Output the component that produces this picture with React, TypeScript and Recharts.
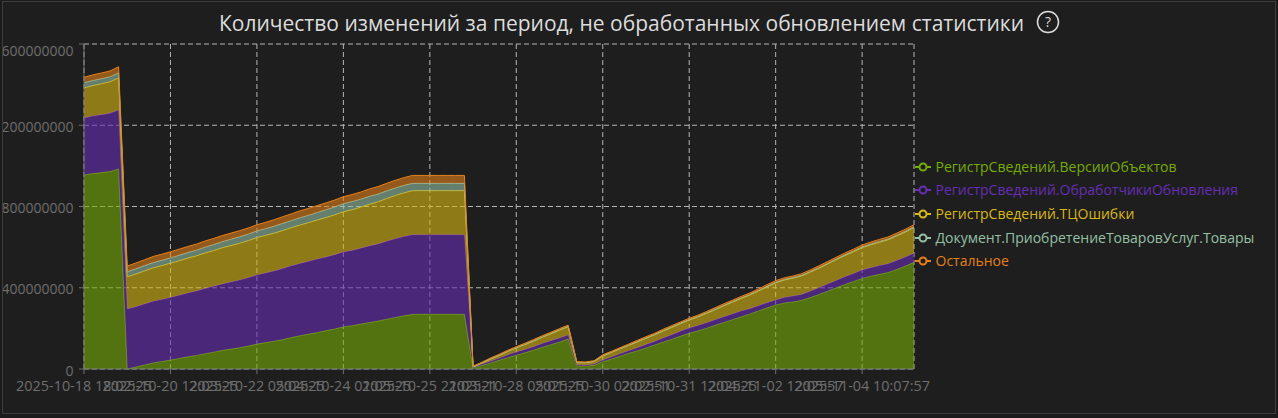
import React from "react";
import { AreaChart, Area, XAxis, YAxis, CartesianGrid, Legend } from "recharts";

const title = "Количество изменений за период, не обработанных обновлением статистики";
const tickLabels = [
  "2025-10-18 18:02:25", "2025-10-20 12:03:25", "2025-10-22 05:04:25", "2025-10-24 01:05:25", "2025-10-25 21:03:21",
  "2025-10-28 05:01:25", "2025-10-30 02:02:51", "2025-10-31 12:04:25", "2025-11-02 12:05:57", "2025-11-04 10:07:57",
];
const yTicks = [0, 400000000, 800000000, 1200000000, 1600000000];
const seriesNames = [
  "РегистрСведений.ВерсииОбъектов",
  "РегистрСведений.ОбработчикиОбновления",
  "РегистрСведений.ТЦОшибки",
  "Документ.ПриобретениеТоваровУслуг.Товары",
  "Остальное",
];
const seriesColors = ["#75ac05", "#672db4", "#d9b914", "#95c0a5", "#e6801a"];
const versions = [
  955, 962, 967, 972, 985, 0, 10, 20, 30, 37, 44, 52, 60, 67, 75, 83, 92, 98, 105, 113,
  123, 130, 137, 145, 155, 164, 172, 180, 189, 197, 208, 213, 221, 229, 236, 245, 254, 262, 269, 269,
  269, 269, 269, 269, 269, 5, 17, 30, 43, 56, 68, 80, 93, 107, 120, 133, 148, 15, 14, 18,
  36, 49, 63, 77, 90, 104, 118, 133, 147, 162, 176, 188, 201, 215, 229, 243, 257, 271, 286, 301,
  315, 325, 330, 338, 352, 367, 383, 400, 416, 431, 446, 457, 466, 475, 490, 507, 525,
];
const handlers = [
  281, 283, 285, 287, 290, 295, 297, 300, 303, 305, 308, 311, 314, 317, 321, 324, 327, 330, 333, 336,
  340, 343, 346, 350, 353, 356, 358, 361, 363, 366, 368, 371, 374, 377, 380, 384, 387, 390, 392, 392,
  392, 392, 392, 392, 392, 3, 6, 8, 10, 13, 16, 16, 17, 18, 19, 20, 19, 5, 5, 6,
  8, 10, 12, 13, 15, 17, 18, 20, 22, 24, 26, 26, 27, 27, 28, 28, 28, 26, 25, 25,
  25, 27, 29, 29, 31, 33, 35, 36, 38, 39, 41, 42, 43, 43, 44, 44, 45,
];
const errors = [
  148, 150, 152, 155, 158, 159, 161, 163, 165, 167, 169, 170, 172, 173, 175, 176, 178, 180, 181, 183,
  184, 185, 186, 187, 188, 189, 191, 193, 194, 196, 198, 200, 202, 205, 207, 210, 213, 215, 217, 217,
  217, 217, 217, 217, 217, 2, 6, 10, 13, 17, 20, 24, 27, 31, 34, 38, 41, 11, 11, 12,
  20, 22, 24, 26, 28, 30, 32, 34, 36, 37, 39, 42, 46, 50, 54, 58, 62, 67, 73, 78,
  84, 86, 88, 91, 94, 96, 99, 102, 104, 107, 110, 112, 115, 118, 121, 123, 126,
];
const goods = [
  25, 25, 25, 24, 25, 25, 25, 26, 26, 26, 26, 27, 27, 28, 29, 30, 30, 31, 32, 32,
  33, 33, 34, 35, 35, 36, 36, 37, 38, 39, 40, 40, 39, 39, 38, 38, 37, 37, 36, 36,
  36, 36, 36, 36, 36, 1, 1, 2, 2, 2, 2, 2, 3, 3, 3, 3, 3, 2, 2, 2,
  2, 2, 2, 2, 3, 3, 3, 3, 3, 3, 3, 3, 3, 3, 3, 3, 3, 3, 3, 3,
  3, 3, 3, 3, 3, 3, 3, 3, 4, 4, 4, 4, 4, 4, 4, 4, 4,
];
const others = [
  27, 28, 28, 29, 30, 28, 29, 29, 30, 30, 30, 30, 30, 30, 30, 30, 30, 30, 30, 30,
  30, 31, 32, 33, 33, 34, 34, 34, 34, 34, 34, 35, 35, 36, 37, 37, 38, 38, 39, 39,
  39, 39, 39, 39, 39, 3, 3, 4, 4, 4, 4, 5, 5, 5, 5, 5, 5, 3, 3, 3,
  4, 4, 4, 5, 5, 5, 5, 6, 6, 6, 6, 6, 6, 7, 7, 7, 7, 7, 7, 8,
  8, 8, 8, 8, 8, 9, 9, 9, 9, 9, 9, 10, 10, 10, 10, 10, 10,
];
const columns = [versions, handlers, errors, goods, others];
const rows = versions.map((_, i) => {
  const row: Record<string, number> = { idx: i };
  columns.forEach((c, s) => { row[seriesNames[s]] = c[i] * 1000000; });
  return row;
});

const FONT = "'Open Sans', 'Noto Sans', sans-serif";

const YTick = (p: any) => {
  const top = p.index === yTicks.length - 1;
  return (
    <text x={p.x - 0.5} y={p.y + (top ? 6 : 1)} textAnchor="end" dominantBaseline="central" fill="#6e6e6e" fontSize={14} fontFamily={FONT}>
      {String(p.payload.value)}
    </text>
  );
};

const LegendBox = () => (
  <div style={{ position: "relative", width: 360, height: 118, fontFamily: FONT, fontSize: 14 }}>
    {seriesNames.map((n, i) => (
      <div key={n} style={{ position: "absolute", left: 0, top: [0, 23, 47, 71, 94][i], height: 20, lineHeight: "20px", color: seriesColors[i], whiteSpace: "nowrap" }}>
        <svg width={16} height={20} style={{ position: "absolute", left: 0, top: 0 }}>
          <line x1={0} x2={16} y1={10} y2={10} stroke={seriesColors[i]} strokeWidth={2} />
          <circle cx={8} cy={10} r={3.5} fill="#1e1e1e" stroke={seriesColors[i]} strokeWidth={2} />
        </svg>
        <span style={{ position: "absolute", left: 20.5, top: 0 }}>{n}</span>
      </div>
    ))}
  </div>
);

export default function App() {
  return (
    <div style={{ position: "fixed", left: 0, top: 0, width: 1278, height: 418, background: "#1b1b1b", overflow: "hidden" }}>
      <div style={{ position: "absolute", left: 2, top: 1, width: 1272, height: 411, border: "1px solid #3d3d3d", background: "#1e1e1e", overflow: "hidden" }}>
        <div style={{ position: "absolute", left: -3, top: -2, width: 1278, height: 418 }}>
          <div style={{ position: "absolute", left: 0, top: 8, width: 1243, textAlign: "center", fontFamily: FONT, fontSize: 21, lineHeight: "30px", color: "#dcdcdc", whiteSpace: "nowrap" }}>
            {title}
          </div>
          <svg width={24} height={24} style={{ position: "absolute", left: 1036, top: 10 }}>
            <circle cx={12} cy={12} r={10.5} fill="none" stroke="#dcdcdc" strokeWidth={1.5} />
            <text x={12} y={17} textAnchor="middle" fontFamily={FONT} fontSize={14} fill="#dcdcdc">?</text>
          </svg>
          <AreaChart width={1278} height={418} data={rows} stackOffset="none" margin={{ top: 44, right: 4, bottom: 0, left: 0 }}>
            <CartesianGrid stroke="#b4b4b4" strokeDasharray="5 3" />
            <XAxis
              dataKey="idx"
              type="category"
              interval={9}
              height={49}
              tickFormatter={(v: number) => tickLabels[v / 10] ?? ""}
              tick={{ fill: "#6e6e6e", fontSize: 14.4, fontFamily: FONT }}
              tickLine={{ stroke: "#6e6e6e" }}
              axisLine={{ stroke: "#6e6e6e" }}
              tickSize={5}
              tickMargin={7}
            />
            <YAxis
              width={84}
              domain={[0, 1600000000]}
              ticks={yTicks}
              interval={0}
              tick={<YTick />}
              tickLine={{ stroke: "#6e6e6e" }}
              axisLine={{ stroke: "#6e6e6e" }}
              tickSize={5}
              tickMargin={5}
            />
            <Legend
              content={<LegendBox />}
              layout="vertical"
              align="right"
              verticalAlign="top"
              wrapperStyle={{ position: "absolute", left: 915, top: 157, width: 360 }}
            />
            {seriesNames.map((n, i) => (
              <Area
                key={n}
                type="linear"
                dataKey={n}
                stackId="a"
                stroke={seriesColors[i]}
                strokeWidth={1}
                fill={seriesColors[i]}
                fillOpacity={0.6}
                dot={false}
                activeDot={false}
                isAnimationActive={false}
              />
            ))}
          </AreaChart>
        </div>
      </div>
    </div>
  );
}
